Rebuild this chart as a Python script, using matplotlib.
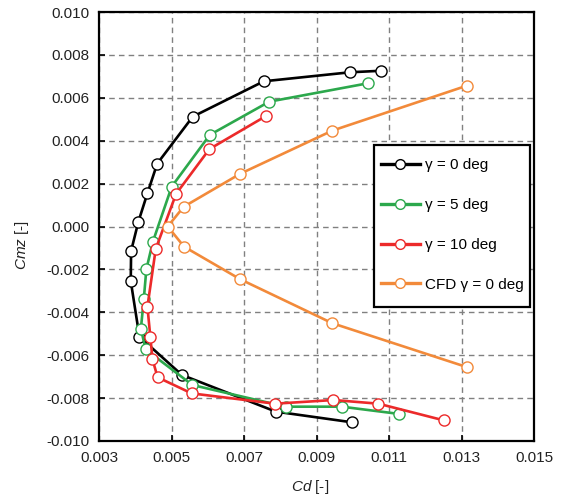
import matplotlib
matplotlib.use("Agg")
import matplotlib.pyplot as plt
from matplotlib.ticker import FixedLocator
from matplotlib.patches import Rectangle

plt.rcParams['font.family'] = ['Liberation Sans', 'DejaVu Sans']
plt.rcParams['mathtext.fontset'] = 'custom'
plt.rcParams['mathtext.it'] = 'Liberation Sans:italic'
plt.rcParams['mathtext.rm'] = 'Liberation Sans'

cd_g0 = [0.01077, 0.00992, 0.00754, 0.00558, 0.00460, 0.00433, 0.00408, 0.00388,
         0.00387, 0.00411, 0.00528, 0.00787, 0.00998]
cm_g0 = [0.00726, 0.00719, 0.00677, 0.00512, 0.00293, 0.00155, 0.00022, -0.00114,
         -0.00254, -0.00514, -0.00692, -0.00863, -0.00913]

cd_g5 = [0.01042, 0.00769, 0.00605, 0.00500, 0.00448, 0.00430, 0.00423, 0.00415,
         0.00428, 0.00557, 0.00814, 0.00969, 0.01128]
cm_g5 = [0.00668, 0.00582, 0.00427, 0.00186, -0.00071, -0.00200, -0.00338, -0.00476,
         -0.00573, -0.00739, -0.00840, -0.00840, -0.00874]

cd_g10 = [0.00760, 0.00604, 0.00512, 0.00456, 0.00433, 0.00441, 0.00447, 0.00461,
          0.00555, 0.00785, 0.00946, 0.01070, 0.01251]
cm_g10 = [0.00515, 0.00361, 0.00152, -0.00104, -0.00374, -0.00514, -0.00619, -0.00703,
          -0.00778, -0.00826, -0.00809, -0.00826, -0.00904]

cd_cfd = [0.01315, 0.00943, 0.00689, 0.00533, 0.00489, 0.00534, 0.00689, 0.00943, 0.01315]
cm_cfd = [0.00657, 0.00447, 0.00246, 0.00092, 0.00000, -0.00094, -0.00246, -0.00451, -0.00656]

labels = ["γ = 0 deg", "γ = 5 deg", "γ = 10 deg", "CFD γ = 0 deg"]
xticks = [0.003, 0.005, 0.007, 0.009, 0.011, 0.013, 0.015]
yticks = [-0.010, -0.008, -0.006, -0.004, -0.002, 0.000, 0.002, 0.004, 0.006, 0.008, 0.010]

W, H = 561, 499
x0, x1, y0, y1 = 99.2, 534.3, 12, 441
fig = plt.figure(figsize=(W/100, H/100), dpi=100)
ax = fig.add_axes([x0/W, 1-y1/H, (x1-x0)/W, (y1-y0)/H])

def ax_frac(px, py):
    return (px-x0)/(x1-x0), 1-(py-y0)/(y1-y0)

series = [(cd_g0, cm_g0, '#000000'), (cd_g5, cm_g5, '#2ca84c'),
          (cd_g10, cm_g10, '#ec2a2a'), (cd_cfd, cm_cfd, '#f28a3a')]
for (x, y, c), lab in zip(series, labels):
    ax.plot(x, y, '-', color=c, lw=1.9, marker='o', ms=8, mfc='white',
            mec=c, mew=1.0, label=lab)

ax.set_xlim(0.003, 0.015)
ax.set_ylim(-0.010, 0.010)
ax.xaxis.set_major_locator(FixedLocator(xticks))
ax.yaxis.set_major_locator(FixedLocator(yticks))
ax.set_xticklabels([f"{v:.3f}" for v in xticks])
ax.set_yticklabels(["0.000" if abs(v) < 1e-12 else f"{v:.3f}" for v in yticks])
ax.tick_params(direction='in', length=4, width=1.2, labelsize=11, pad=7,
               labelcolor='#222222')
ax.grid(True, color='#808080', ls=(0, (4, 3)), lw=1.0)
for s in ax.spines.values():
    s.set_linewidth(1.6)

fig.text(310/W, 1-487/H, r"$\mathit{Cd}$ [-]", fontsize=11, ha='center', va='center',
         color='#222222')
fig.text(21.7/W, 1-245/H, r"$\mathit{Cmz}$ [-]", fontsize=11, rotation=90,
         ha='center', va='center', color='#222222')

# legend box
lx, ly = ax_frac(374.3, 145.3)
rx, ry = ax_frac(530, 306.7)
ax.add_patch(Rectangle((lx, ry), rx-lx, ly-ry, transform=ax.transAxes, fill=True,
                       facecolor='white', edgecolor='black', lw=1.6, zorder=4))
hx, hy = ax_frac(381, 158.3)
leg = ax.legend(loc='upper left', bbox_to_anchor=(hx, hy), fontsize=11,
                frameon=False, labelspacing=1.69, handlelength=2.55,
                handletextpad=0.3, borderpad=0, borderaxespad=0)
leg.set_zorder(5)
for h in leg.get_lines():
    h.set_linewidth(2.4)
    h.set_markersize(7)

fig.savefig("out.png", dpi=100)
